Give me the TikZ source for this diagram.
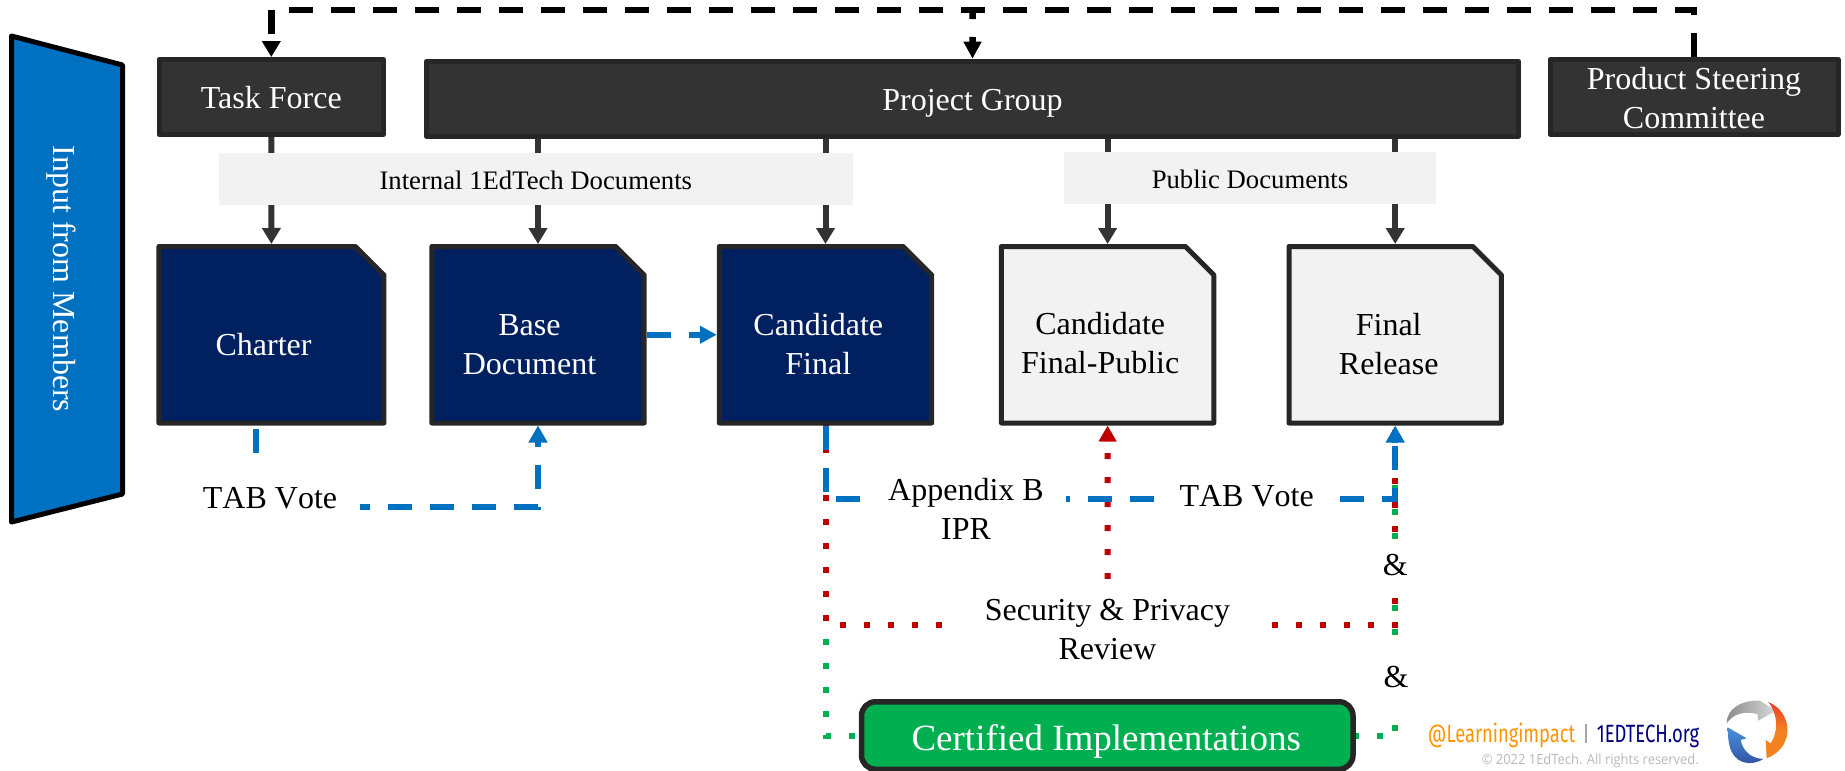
\documentclass[tikz,border=0pt]{standalone}
\usepackage{fontspec}
\usepackage{graphicx}
\setmainfont{Liberation Serif}
\newfontfamily\logofont{Fira Sans}
\newfontfamily\copyfont{Open Sans}
\usetikzlibrary{arrows.meta}
\pgfdeclarelayer{lines}
\pgfdeclarelayer{docs}
\pgfsetlayers{lines,docs,main}
\definecolor{boxdark}{HTML}{333333}
\definecolor{edgedark}{HTML}{262626}
\definecolor{navy}{HTML}{002060}
\definecolor{lightgrey}{HTML}{F2F2F2}
\definecolor{iblue}{HTML}{0070C0}
\definecolor{ired}{HTML}{C00000}
\definecolor{igreen}{HTML}{00B050}
\definecolor{logoA}{HTML}{4A90D9}
\definecolor{logoB}{HTML}{2F4FA0}
\definecolor{logoC}{HTML}{E8402A}
\definecolor{logoD}{HTML}{F58220}
% text placed inside a node: #1 = x offset from centre, #2 = first baseline below centre
\newcommand\placed[3]{\makebox[0pt]{\kern#1pt\raisebox{-#2pt}[0pt][0pt]{\begin{tabular}[t]{@{}c@{}}#3\end{tabular}}\kern-#1pt}}
% outline of a document node with a cut top right corner
\newcommand\docshape[2]{\begin{pgfonlayer}{docs}\draw[draw=edgedark,fill=#2,line width=5pt,line join=round]
  ([xshift=2.5pt,yshift=-2.5pt]#1.north west) -- ([xshift=-31pt,yshift=-2.5pt]#1.north east) -- ([xshift=-2.5pt,yshift=-31pt]#1.north east) -- ([xshift=-2.5pt,yshift=2.5pt]#1.south east) -- ([xshift=2.5pt,yshift=2.5pt]#1.south west) -- cycle;\end{pgfonlayer}}
\newcommand\nokern{\addfontfeature{Kerning=Off}}
\tikzset{
  bigtext/.style={font=\fontsize{32}{39}\selectfont},
  headbox/.style={bigtext,rectangle,draw=edgedark,fill=boxdark,line width=5pt,line join=round,text=white,minimum height=75pt,inner sep=0pt},
  docbox/.style={bigtext,rectangle,minimum width=217.4pt,minimum height=181.5pt,inner sep=0pt,outer sep=0pt},
  navydoc/.style={docbox,text=white},
  greydoc/.style={docbox,text=black},
  band/.style={rectangle,fill=lightgrey,font=\fontsize{26.7}{32}\selectfont,minimum height=52pt,inner sep=0pt},
  lab/.style={bigtext,rectangle,fill=white,inner sep=0pt,outer sep=0pt},
  darkarrow/.style={draw=boxdark,line width=6pt,-{Triangle[width=18pt,length=16pt]}},
  blackdash/.style={draw=black,line width=6.5pt,dash pattern=on 24pt off 18pt},
  bluedash/.style={draw=iblue,line width=6pt,dash pattern=on 24pt off 18pt},
  reddots/.style={draw=ired,line width=6pt,dash pattern=on 6pt off 18pt},
  greendots/.style={draw=igreen,line width=6pt,dash pattern=on 6pt off 18pt},
}
\begin{document}
\begin{tikzpicture}[x=1pt,y=-1pt]
\useasboundingbox (0,0) rectangle (1845,771);

% input trapezoid
\draw[fill=iblue,draw=black,line width=5pt,line join=round] (11.5,36) -- (122.5,65) -- (122.5,494) -- (11.5,522) -- cycle;
\node[rotate=-90,anchor=base,text=white,bigtext,inner sep=0pt] (input) at (53,279) {Input from Members};

% head boxes
\node[headbox,minimum width=224.5pt] (tf) at (271.3,97) {\placed{0}{11}{Task Force}};
\node[headbox,minimum width=1092pt] (pg) at (972.5,98.7) {\placed{0}{11.5}{Project Group}};
\node[headbox,minimum width=288pt] (psc) at (1694,97) {\placed{0}{-8}{Product Steering\\Committee}};

% documents
\node[navydoc,minimum width=230pt] (charter) at (271.4,334.75) {\placed{-7.8}{21}{Charter}};
\node[navydoc] (base) at (538,334.75) {\placed{-8.5}{0.25}{Base\\Document}};
\node[navydoc] (cf) at (825.5,334.75) {\placed{-7.2}{0.25}{Candidate\\Final}};
\node[greydoc] (cfp) at (1107.6,334.75) {\placed{-7.4}{-0.5}{Candidate\\Final-Public}};
\node[greydoc] (fin) at (1395.2,334.75) {\placed{-6.5}{0.25}{Final\\Release}};
\docshape{charter}{navy}
\docshape{base}{navy}
\docshape{cf}{navy}
\docshape{cfp}{lightgrey}
\docshape{fin}{lightgrey}

% bands
\node[band,minimum width=634.5pt] (internal) at (535.8,179) {\placed{0}{10}{Internal 1EdTech Documents}};
\node[band,minimum width=372pt] (public) at (1250,178) {\placed{0}{10}{Public Documents}};

% certified box
\node[font=\fontsize{37}{44}\selectfont,rectangle,rounded corners=14pt,draw=edgedark,fill=igreen,text=white,line width=5.5pt,minimum width=491.5pt,minimum height=67.5pt,inner sep=0pt] (cert) at (1107.25,735.5) {\placed{-1}{14.5}{Certified Implementations}};

% labels on the connectors
\node[lab,minimum width=180pt,minimum height=80pt] (tab1) at (270,507) {\placed{0}{1}{\nokern TAB Vote}};
\node[lab,minimum width=206pt,minimum height=60pt] (ipr) at (962.5,499) {\placed{3.5}{1.5}{Appendix B\\IPR}};
\node[lab,minimum width=186pt,minimum height=40pt] (tab2) at (1246.6,499) {\placed{0}{7}{\nokern TAB Vote}};
\node[lab,minimum width=325pt,minimum height=91pt] (sec) at (1107.5,624.7) {\placed{0}{-4.4}{Security \& Privacy\\Review}};
\node[lab,minimum width=30pt,minimum height=55pt] (amp1) at (1395.3,567.5) {\placed{0}{7.5}{\&}};
\node[lab,minimum width=30pt,minimum height=74pt] (amp2) at (1396,675) {\placed{0}{12}{\&}};

% free end points of connectors
\coordinate (topR) at (1694,10);
\coordinate (topL) at (271.3,10);
\coordinate (topP) at (972.6,10);
\coordinate (chartStart) at (256.4,429);
\coordinate (tabCorner) at (256.4,507);
\coordinate (blueCorner) at (825.5,499);
\coordinate (redCorner) at (825.5,624.7);
\coordinate (greenCorner) at (825.5,736);

\begin{pgfonlayer}{lines}
% top feedback
\draw[blackdash,-{Triangle[width=18pt,length=16pt]}] (psc.north) -- (topR) -- (topL) -- (tf.north);
\draw[blackdash,dash phase=15pt,-{Triangle[width=17pt,length=17pt]}] (topP) -- (pg.north);
% down arrows
\draw[darkarrow] (tf.south) -- (charter.north);
\draw[darkarrow] (pg.south -| base.north) -- (base.north);
\draw[darkarrow] (pg.south -| cf.north) -- (cf.north);
\draw[darkarrow] (pg.south -| cfp.north) -- (cfp.north);
\draw[darkarrow] (pg.south -| fin.north) -- (fin.north);
% review paths
\draw[greendots] ([yshift=2.5pt]cf.south) |- (greenCorner) -| (fin.south);
\draw[reddots] ([yshift=2.5pt]cf.south) |- (redCorner) -| (fin.south);
\draw[reddots,-{Triangle[width=17pt,length=16pt]}] (sec.north) -- (cfp.south);
% TAB votes
\draw[bluedash,-{Triangle[width=18pt,length=17pt]}] (chartStart) -- (tabCorner) -| (base.south);
\draw[bluedash,-{Triangle[width=17pt,length=17pt]}] (base.east) -- (cf.west);
\draw[bluedash,-{Triangle[width=18pt,length=17pt]}] (cf.south) |- (blueCorner) -| (fin.south);
\end{pgfonlayer}

% footer
\node[anchor=base west,inner sep=0pt,text=orange!85!yellow,font=\logofont\fontsize{25}{30}\selectfont] (li) at (1427.7,742) {\resizebox{147.3pt}{\height}{@Learningimpact}};
\draw[draw=black!35,line width=1.5pt] (1586,724) -- (1586,743);
\node[anchor=base west,inner sep=0pt,text=blue!50!black,font=\logofont\fontsize{25}{30}\selectfont] (org) at (1596.7,742) {\resizebox{102.3pt}{\height}{1EDTECH.org}};
\node[anchor=base east,inner sep=0pt,text=black!28,font=\copyfont\fontsize{14}{17}\selectfont] (copy) at (1699,764) {\resizebox{217pt}{\height}{\textcopyright{} 2022 1EdTech. All rights reserved.}};

% logo
\begin{scope}[shift={(1700,690)},x=0.3333pt,y=-0.3333pt]
\shade[left color=black!45,right color=black!15] (80,100) .. controls (80,55) and (125,30) .. (180,32) -- (200,45) -- (228,62) -- (175,92) -- (172,72) .. controls (130,62) and (100,72) .. (80,100) -- cycle;
\shade[top color=logoC,bottom color=logoD,middle color=logoD] (205,36) .. controls (262,60) and (272,120) .. (255,155) .. controls (245,178) and (225,195) .. (200,205) -- (197,150) -- (212,160) .. controls (235,125) and (235,75) .. (205,36) -- cycle;
\shade[top color=logoA,bottom color=logoB] (83,112) -- (140,145) -- (122,150) .. controls (128,180) and (150,205) .. (190,207) .. controls (150,232) and (100,220) .. (88,165) .. controls (84,145) and (83,130) .. (83,112) -- cycle;
\end{scope}
\end{tikzpicture}
\end{document}
